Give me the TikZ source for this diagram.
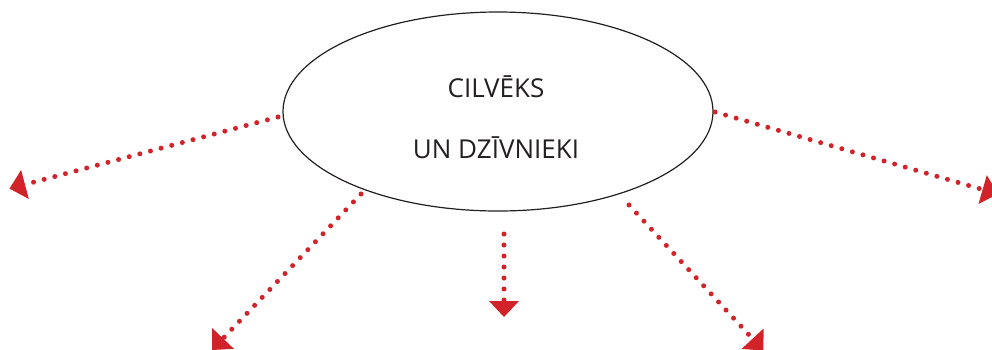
\documentclass[tikz,border=0pt]{standalone}
\usepackage{fontspec}
\setmainfont{Open Sans}
\usetikzlibrary{shapes.geometric,arrows.meta}
\definecolor{arrred}{HTML}{D2232A}
\definecolor{ink}{HTML}{231F20}
\tikzset{
  bubble/.style={ellipse, draw=ink, line width=1.2pt, minimum width=430pt, minimum height=199pt, inner sep=0pt},
  titletext/.style={text=ink, font=\fontsize{26}{61}\selectfont, align=center, inner sep=0pt},
  dotarrow/.style={draw=arrred, line width=5pt, line cap=round, dash pattern=on 0pt off 11pt,
    -{Triangle[width=30pt,length=16pt,line width=0pt]}}
}
\begin{document}
\begin{tikzpicture}[x=1pt,y=-1pt]
\clip (0,0) rectangle (992,349);
\node[bubble] (e) at (498,111.5) {};
\node[titletext] (title) at (496,117.5) {CILVĒKS\\UN DZĪVNIEKI};
\coordinate (sL) at (278,117);
\coordinate (eL) at (9.5,188.6);
\coordinate (sLL) at (361,194);
\coordinate (eLL) at (212,350);
\coordinate (sD) at (504,234);
\coordinate (eD) at (504,317);
\coordinate (sLR) at (629,205);
\coordinate (eLR) at (763.4,350.5);
\coordinate (sR) at (715,112);
\coordinate (eR) at (998,194);
\draw[dotarrow] (sL) -- (eL);
\draw[dotarrow] (sLL) -- (eLL);
\draw[dotarrow] (sD) -- (eD);
\draw[dotarrow] (sLR) -- (eLR);
\draw[dotarrow] (sR) -- (eR);
\end{tikzpicture}
\end{document}
